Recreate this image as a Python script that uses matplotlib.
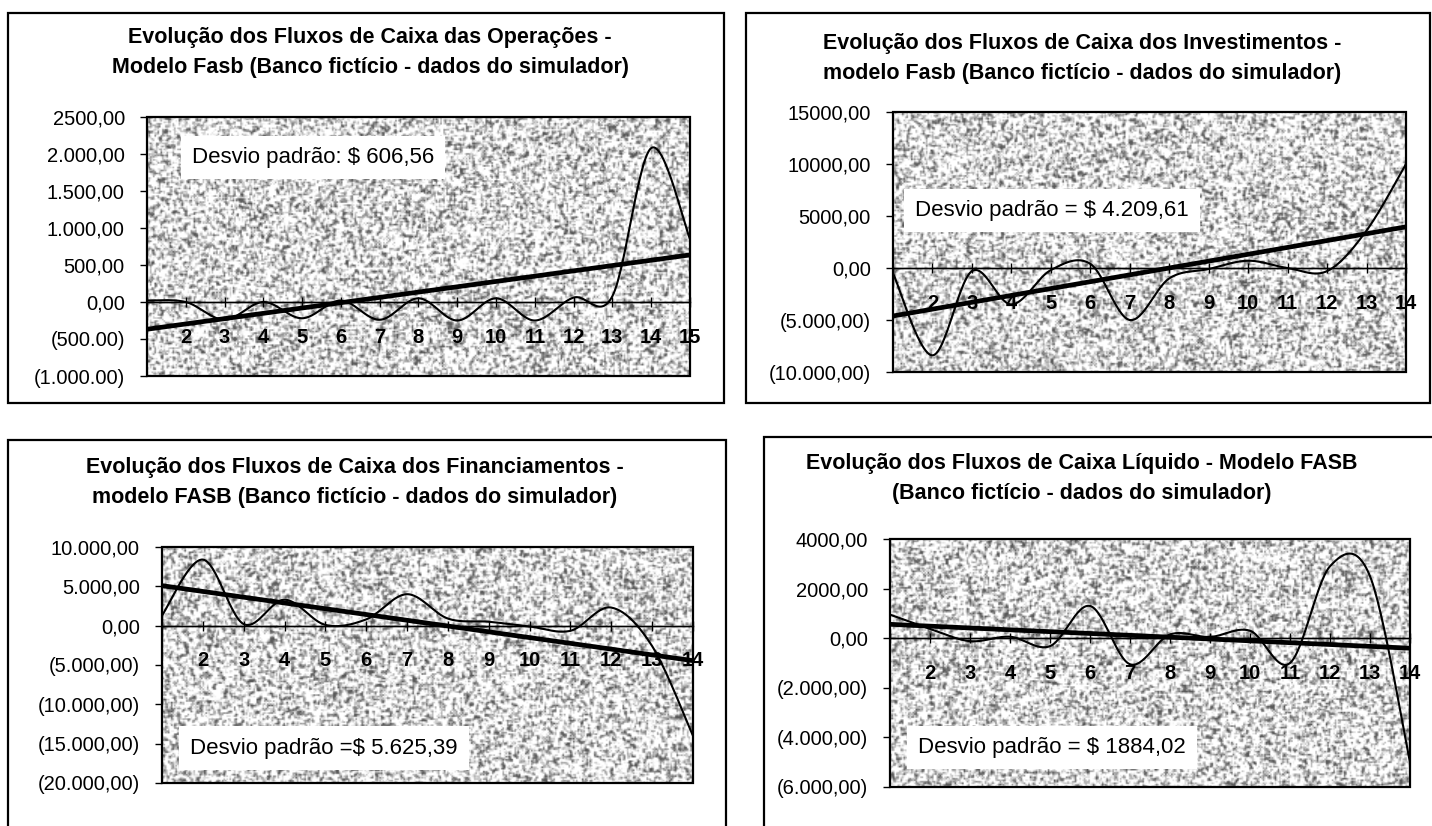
import numpy as np
import matplotlib.pyplot as plt
from matplotlib.patches import Rectangle

W, H, DPI = 1432, 826, 100
plt.rcParams['font.family'] = ['Liberation Sans', 'DejaVu Sans']

# Fluxos de caixa por período (modelo FASB, banco fictício)
periodos_op = list(range(1, 16))
fluxo_op = [20, 0, -240, 0, -220, 20, -240, 50, -250, 50, -250, 60, 80, 2080, 850]

periodos_inv = list(range(1, 15))
fluxo_inv = [-500, -8400, -300, -3500, -200, 400, -5000, -1000, -100, 700, 0, -300, 3600, 10000]

periodos_fin = list(range(1, 15))
fluxo_fin = [1300, 8400, 200, 3300, 100, 800, 4000, 900, 500, -100, -650, 2300, -2600, -14000]

periodos_liq = list(range(1, 15))
fluxo_liq = [950, 380, -120, 60, -320, 1300, -1050, 150, 50, 300, -1000, 2900, 2500, -5000]

titulo_op = ["Evolução dos Fluxos de Caixa das Operações -",
             "Modelo Fasb (Banco fictício - dados do simulador)"]
titulo_inv = ["Evolução dos Fluxos de Caixa dos Investimentos -",
              "modelo Fasb (Banco fictício - dados do simulador)"]
titulo_fin = ["Evolução dos Fluxos de Caixa dos Financiamentos -",
              "modelo FASB (Banco fictício - dados do simulador)"]
titulo_liq = ["Evolução dos Fluxos de Caixa Líquido - Modelo FASB",
              "(Banco fictício - dados do simulador)"]

desvio_op = "Desvio padrão: $ 606,56"
desvio_inv = "Desvio padrão = $ 4.209,61"
desvio_fin = "Desvio padrão =$ 5.625,39"
desvio_liq = "Desvio padrão = $ 1884,02"

yticks_op = [-1000, -500, 0, 500, 1000, 1500, 2000, 2500]
ylabels_op = ["(1.000.00)", "(500.00)", "0,00", "500,00", "1.000,00", "1.500,00", "2.000,00", "2500,00"]
yticks_inv = [-10000, -5000, 0, 5000, 10000, 15000]
ylabels_inv = ["(10.000,00)", "(5.000,00)", "0,00", "5000,00", "10000,00", "15000,00"]
yticks_fin = [-20000, -15000, -10000, -5000, 0, 5000, 10000]
ylabels_fin = ["(20.000,00)", "(15.000,00)", "(10.000,00)", "(5.000,00)", "0,00", "5.000,00", "10.000,00"]
yticks_liq = [-6000, -4000, -2000, 0, 2000, 4000]
ylabels_liq = ["(6.000,00)", "(4.000,00)", "(2.000,00)", "0,00", "2000,00", "4000,00"]

fig = plt.figure(figsize=(W / DPI, H / DPI), dpi=DPI)
fig.patch.set_facecolor('white')


def caixa(left, top, right, bottom):
    fig.patches.append(Rectangle((left / W, 1 - bottom / H), (right - left) / W, (bottom - top) / H,
                                 transform=fig.transFigure, fill=False, lw=1.6, ec='black'))


def eixo(left, top, right, bottom):
    return fig.add_axes([left / W, 1 - bottom / H, (right - left) / W, (bottom - top) / H])


def suaviza(x, y, n=30):
    # linha suavizada (spline de Catmull-Rom, como no Excel)
    x = np.asarray(x, float)
    y = np.asarray(y, float)
    px = np.concatenate([[x[0]], x, [x[-1]]])
    py = np.concatenate([[y[0]], y, [y[-1]]])
    t = np.linspace(0, 1, n)
    h00 = 2 * t**3 - 3 * t**2 + 1
    h10 = t**3 - 2 * t**2 + t
    h01 = -2 * t**3 + 3 * t**2
    h11 = t**3 - t**2
    xs, ys = [], []
    for i in range(1, len(px) - 2):
        for p, out in ((px, xs), (py, ys)):
            m0 = (p[i + 1] - p[i - 1]) / 2
            m1 = (p[i + 2] - p[i]) / 2
            out.append(h00 * p[i] + h10 * m0 + h01 * p[i + 1] + h11 * m1)
    return np.concatenate(xs), np.concatenate(ys)


def textura(ax, x0, x1, y0, y1, seed):
    # fundo granulado da área de plotagem
    rng = np.random.default_rng(seed)
    bb = ax.get_window_extent()
    w, h = int(bb.width / 1.5), int(bb.height / 1.5)
    r = rng.random((h + 2, w + 2))
    s = (r[1:-1, 1:-1] * 2 + r[:-2, 1:-1] + r[2:, 1:-1] + r[1:-1, :-2] + r[1:-1, 2:]) / 6
    g = np.clip(0.87 + (s - 0.5) * 1.9, 0.35, 1.0)
    ax.imshow(g, cmap='gray', vmin=0, vmax=1, extent=(x0, x1, y0, y1),
              aspect='auto', interpolation='bilinear', zorder=0)


def painel(box, area, titulo, tit_xy, x, y, yticks, ylabels, desvio, desvio_xy, seed):
    caixa(*box)
    for k, linha in enumerate(titulo):
        fig.text(tit_xy[0] / W, 1 - (tit_xy[1] + 30 * k) / H, linha, ha='center', va='center',
                 fontsize=15.5, fontweight='bold')
    ax = eixo(*area)
    n = len(x)
    ylo, yhi = yticks[0], yticks[-1]
    textura(ax, 1, n, ylo, yhi, seed)
    ax.set_xlim(1, n)
    ax.set_ylim(ylo, yhi)

    ax.axhline(0, color='black', lw=1.0, zorder=2)
    xs, ys = suaviza(x, y)
    ax.plot(xs, ys, color='black', lw=1.5, zorder=3)
    a, b = np.polyfit(x, y, 1)
    ax.plot([1, n], [a * 1 + b, a * n + b], color='black', lw=3.4, zorder=4,
            solid_capstyle='butt')

    for s in ('top', 'right', 'left'):
        ax.spines[s].set_visible(False)
    ax.spines['bottom'].set_position(('data', 0))
    ax.spines['bottom'].set_linewidth(1.0)
    ax.add_patch(Rectangle((0, 0), 1, 1, transform=ax.transAxes, fill=False,
                           lw=1.6, ec='black', clip_on=False, zorder=6))

    ax.set_xticks(x)
    ax.set_xticklabels([''] + [str(v) for v in x[1:]], fontsize=14.5, fontweight='bold')
    ax.tick_params(axis='x', direction='inout', length=7, width=1, pad=15)
    ax.set_yticks(yticks)
    ax.set_yticklabels(ylabels, fontsize=14.5)
    ax.tick_params(axis='y', direction='out', length=5, width=1, pad=11)

    ax.text(desvio_xy[0], desvio_xy[1], desvio, transform=ax.transAxes, ha='left', va='center',
            fontsize=16, zorder=7,
            bbox=dict(boxstyle='square,pad=0.5', fc='white', ec='none'))


painel((8, 13, 724, 403), (147, 117, 690, 376), titulo_op, (370, 38),
       periodos_op, fluxo_op, yticks_op, ylabels_op, desvio_op, (0.083, 0.845), 11)
painel((746, 13, 1430, 403), (893, 112, 1406, 372), titulo_inv, (1082, 43),
       periodos_inv, fluxo_inv, yticks_inv, ylabels_inv, desvio_inv, (0.043, 0.62), 12)
painel((8, 440, 726, 840), (162, 547, 693, 783), titulo_fin, (355, 468),
       periodos_fin, fluxo_fin, yticks_fin, ylabels_fin, desvio_fin, (0.053, 0.148), 13)
painel((764, 437, 1440, 840), (890, 539, 1410, 787), titulo_liq, (1082, 464),
       periodos_liq, fluxo_liq, yticks_liq, ylabels_liq, desvio_liq, (0.054, 0.16), 14)

fig.savefig('out.png', dpi=DPI)
